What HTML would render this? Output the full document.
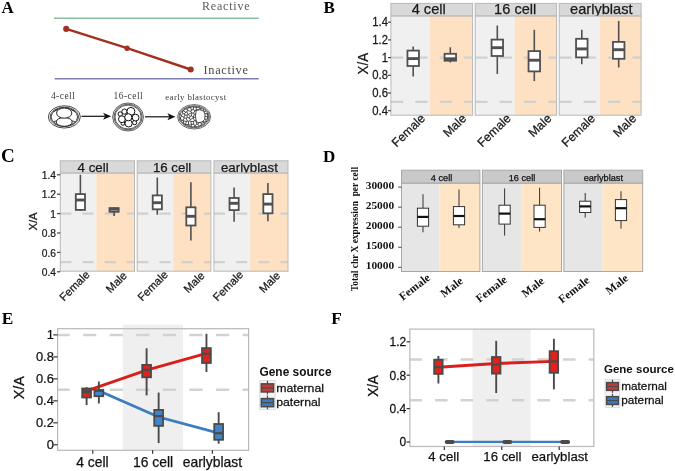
<!DOCTYPE html>
<html><head><meta charset="utf-8"><style>
html,body{margin:0;padding:0;background:#fff;}
svg{display:block;will-change:transform;opacity:0.999;}
</style></head><body>
<svg width="675" height="471" viewBox="0 0 675 471">
<rect width="675" height="471" fill="#fff"/>
<text transform="translate(1.60,12.80)" font-family='"Liberation Serif", serif' font-size="17" font-weight="bold" text-anchor="start" fill="#000" >A</text>
<text transform="translate(323.50,12.70)" font-family='"Liberation Serif", serif' font-size="17" font-weight="bold" text-anchor="start" fill="#000" >B</text>
<text transform="translate(0.95,161.70)" font-family='"Liberation Serif", serif' font-size="19" font-weight="bold" text-anchor="start" fill="#000" >C</text>
<text transform="translate(323.10,161.50)" font-family='"Liberation Serif", serif' font-size="17" font-weight="bold" text-anchor="start" fill="#000" >D</text>
<text transform="translate(1.85,323.90)" font-family='"Liberation Serif", serif' font-size="17.3" font-weight="bold" text-anchor="start" fill="#000" >E</text>
<text transform="translate(331.35,323.90)" font-family='"Liberation Serif", serif' font-size="17.3" font-weight="bold" text-anchor="start" fill="#000" >F</text>
<line x1="54.00" y1="18.20" x2="258.70" y2="18.20" stroke="#88c09a" stroke-width="1.6" />
<text transform="translate(202.00,9.80)" font-family='"Liberation Serif", serif' font-size="12" font-weight="normal" text-anchor="start" fill="#5a5a5a" letter-spacing="0.8" >Reactive</text>
<line x1="54.70" y1="78.70" x2="258.70" y2="78.70" stroke="#7d7bb3" stroke-width="1.6" />
<text transform="translate(203.60,73.80)" font-family='"Liberation Serif", serif' font-size="12.3" font-weight="normal" text-anchor="start" fill="#4a4a4a" letter-spacing="0.67" >Inactive</text>
<polyline points="66.2,28.9 127.1,48.2 190.7,69.5" fill="none" stroke="#a23122" stroke-width="2.4"/>
<circle cx="66.2" cy="28.9" r="3.05" fill="#a23122"/>
<circle cx="127.1" cy="48.2" r="2.7" fill="#a23122"/>
<circle cx="190.7" cy="69.5" r="3.05" fill="#a23122"/>
<text transform="translate(50.90,98.70)" font-family='"Liberation Serif", serif' font-size="9.5" font-weight="normal" text-anchor="start" fill="#3a3a3a" letter-spacing="0.45" >4-cell</text>
<text transform="translate(113.60,98.70)" font-family='"Liberation Serif", serif' font-size="9.5" font-weight="normal" text-anchor="start" fill="#3a3a3a" letter-spacing="0.45" >16-cell</text>
<text transform="translate(165.30,100.00)" font-family='"Liberation Serif", serif' font-size="8.8" font-weight="normal" text-anchor="start" fill="#3a3a3a" letter-spacing="0.39" >early blastocyst</text>
<line x1="81.50" y1="116.30" x2="106.10" y2="116.30" stroke="#111" stroke-width="1.2" />
<polygon points="103.1,112.8 111.1,116.3 103.1,119.8 105.1,116.3" fill="#111"/>
<line x1="145.00" y1="116.80" x2="170.40" y2="116.80" stroke="#111" stroke-width="1.2" />
<polygon points="167.4,113.3 175.4,116.8 167.4,120.3 169.4,116.8" fill="#111"/>
<g fill="none" stroke="#1a1a1a" stroke-width="0.8"><ellipse cx="64.35" cy="116.9" rx="16.0" ry="11.15"/><ellipse cx="64.35" cy="116.9" rx="14.2" ry="9.7"/><ellipse cx="64.35" cy="116.9" rx="13.2" ry="8.9"/><ellipse cx="64.2" cy="121.9" rx="8.0" ry="4.4" fill="#fff" stroke-width="0.95"/><ellipse cx="64.2" cy="113.1" rx="7.6" ry="5.1" fill="#fff" stroke-width="0.95"/><path d="M57.3 109.9 L53.3 111.6 M56.7 120.8 L53.6 121.6 M71.2 109.9 L75.3 111.6 M71.8 120.8 L74.9 121.6"/></g>
<g fill="none" stroke="#2a2a2a" stroke-width="0.75"><ellipse cx="128.05" cy="117" rx="15.4" ry="14.0"/><ellipse cx="128.05" cy="117" rx="14.05" ry="12.8"/><ellipse cx="128.05" cy="117" rx="13.1" ry="11.9"/><circle cx="120.2" cy="114.0" r="2.2" fill="#fff" stroke="#111" stroke-width="1.0"/><circle cx="124.4" cy="111.6" r="2.6" fill="#fff" stroke="#111" stroke-width="1.0"/><circle cx="122.9" cy="123.4" r="1.9" fill="#fff" stroke="#111" stroke-width="1.0"/><circle cx="134.6" cy="122.6" r="2.1" fill="#fff" stroke="#111" stroke-width="1.0"/><circle cx="121.9" cy="119.2" r="3.4" fill="#fff" stroke="#111" stroke-width="1.0"/><circle cx="130.9" cy="111.4" r="4.0" fill="#fff" stroke="#111" stroke-width="1.0"/><circle cx="135.6" cy="117.6" r="3.4" fill="#fff" stroke="#111" stroke-width="1.0"/><circle cx="128.6" cy="123.4" r="3.6" fill="#fff" stroke="#111" stroke-width="1.0"/><circle cx="128.3" cy="117.3" r="3.6" fill="#fff" stroke="#111" stroke-width="1.0"/></g>
<defs><clipPath id="blc"><ellipse cx="194.1" cy="116.8" rx="14.4" ry="10.2"/></clipPath></defs>
<g fill="none" stroke="#2a2a2a" stroke-width="0.7"><ellipse cx="194.1" cy="116.8" rx="16.5" ry="12.2"/><ellipse cx="194.1" cy="116.8" rx="15.3" ry="11.0"/><ellipse cx="194.1" cy="116.8" rx="14.4" ry="10.2" fill="#fff"/><path clip-path="url(#blc)" d="M177.6 120.9L178.7 122.3M186.3 128.4L184.6 127.1M184.6 127.1L184.6 127.1M181.0 125.2L182.4 126.6M184.6 127.1L182.4 126.6M203.6 106.6L204.4 107.2M205.5 107.4L204.4 107.2M205.5 107.4L207.1 108.5M203.6 106.6L203.3 106.5M201.9 105.1L203.3 106.5M201.9 105.1L199.8 104.5M197.6 103.9L198.9 104.7M199.8 104.5L198.9 104.7M182.5 107.1L180.8 108.3M184.3 106.0L186.3 105.1M182.5 107.1L183.7 106.9M184.3 106.0L183.7 106.9M177.6 120.9L177.3 119.2M181.0 125.2L180.8 124.6M180.8 124.6L179.8 123.7M178.7 122.3L179.3 122.6M179.8 123.7L179.3 122.6M211.4 117.6L210.9 119.2M211.1 116.0L211.4 117.6M210.9 119.2L210.4 119.8M210.4 119.8L210.3 120.7M210.3 120.7L209.4 122.2M208.5 123.7L207.2 125.2M208.7 122.7L209.4 122.2M208.7 122.7L208.5 123.7M188.5 128.8L190.7 129.3M186.3 128.4L188.3 128.7M188.3 128.7L188.5 128.8M207.1 108.5L207.8 109.9M208.1 110.1L207.8 109.9M188.4 104.6L190.6 104.0M186.3 105.1L187.8 105.2M188.4 104.6L187.8 105.2M180.0 110.1L180.0 110.6M180.0 110.6L179.1 111.6M180.8 108.3L180.0 110.1M178.4 113.1L179.1 111.6M177.5 114.4L177.1 116.0M178.4 113.1L178.4 113.2M177.5 114.4L178.4 113.2M177.1 116.0L177.3 117.6M177.3 119.2L177.6 118.0M177.3 117.6L177.6 118.0M204.4 107.2L202.6 112.7M203.3 106.5L200.5 108.7M200.5 108.7L202.6 112.7M207.8 109.9L202.7 112.8M202.6 112.7L202.7 112.8M188.3 128.7L188.9 125.0M191.9 128.9L191.1 124.8M191.9 128.9L190.7 129.3M188.9 125.0L191.1 124.8M184.6 127.1L185.5 124.7M185.5 124.7L188.5 124.6M188.9 125.0L188.5 124.6M180.8 124.6L183.4 123.0M185.5 124.7L185.5 124.6M183.4 123.0L185.5 124.6M191.9 128.9L192.9 129.2M193.0 129.2L192.9 129.2M204.3 126.5L203.8 127.4M204.3 126.5L205.1 126.0M205.1 126.0L205.3 126.0M207.2 125.2L205.3 126.0M201.9 128.5L199.6 128.6M203.8 127.4L201.9 128.5M197.9 124.2L200.0 122.2M197.9 124.2L199.5 126.3M199.5 126.3L201.4 124.7M201.4 124.7L201.2 123.3M201.2 123.3L200.0 122.2M196.8 124.1L197.9 124.2M196.8 124.1L195.9 120.8M199.6 118.4L195.9 120.8M199.6 118.4L200.0 122.2M196.8 124.1L195.2 125.4M199.4 128.5L199.5 126.3M199.4 128.5L198.1 128.9M198.1 128.9L195.2 125.4M199.4 128.5L199.6 128.6M204.3 126.5L201.4 124.7M204.0 122.5L205.1 126.0M204.0 122.5L201.2 123.3M208.1 110.1L208.9 111.3M209.3 111.4L208.9 111.3M209.3 111.4L210.5 112.7M210.5 112.7L211.0 114.4M211.1 116.0L210.8 115.6M211.0 114.4L210.8 115.6M198.6 114.6L195.6 110.5M198.6 114.6L194.4 114.1M194.4 114.1L193.5 113.1M193.5 113.1L195.1 110.6M195.1 110.6L195.6 110.5M190.6 104.0L191.7 104.3M192.9 103.6L191.7 104.3M192.9 103.6L195.3 103.7M197.6 103.9L195.6 103.9M195.3 103.7L195.6 103.9M182.2 111.3L182.9 113.7M182.2 111.3L183.5 110.9M183.5 110.9L185.6 112.2M185.6 112.2L184.4 114.0M184.4 114.0L182.9 113.7M180.0 110.6L182.2 111.3M178.4 113.2L181.3 115.2M181.3 115.2L182.9 113.7M183.7 106.9L184.6 108.5M184.6 108.5L183.5 110.9M184.9 115.2L184.4 114.0M184.9 115.2L187.2 115.1M187.2 115.1L188.0 114.3M185.6 112.2L186.9 111.9M186.9 111.9L188.0 114.3M199.6 108.6L198.5 109.8M199.6 108.6L198.5 106.6M198.5 109.8L196.2 109.7M198.5 106.6L196.1 107.7M196.1 107.7L196.2 109.7M198.9 104.7L198.5 106.6M200.5 108.7L199.6 108.6M198.6 114.6L200.0 115.3M200.0 115.3L198.5 109.8M195.6 110.5L196.2 109.7M195.6 103.9L195.1 106.9M195.1 106.9L196.1 107.7M193.8 121.3L190.8 121.5M193.8 121.3L193.4 124.3M190.8 121.5L191.5 124.5M193.4 124.3L191.5 124.5M195.9 120.8L194.6 120.6M194.6 120.6L193.8 121.3M195.2 125.4L195.1 125.4M195.1 125.4L193.4 124.3M188.5 124.6L188.5 121.3M191.1 124.8L191.5 124.5M188.5 121.3L189.9 120.7M189.9 120.7L190.8 121.5M192.9 129.2L195.1 125.4M183.4 123.0L183.5 120.8M185.5 124.6L186.3 121.6M183.5 120.8L186.3 121.6M188.5 121.3L187.2 121.1M187.2 121.1L186.3 121.6M180.0 118.0L181.6 116.3M180.0 118.0L181.7 120.3M181.6 116.3L183.9 117.2M181.7 120.3L183.2 120.3M183.2 120.3L184.3 118.0M183.9 117.2L184.3 118.0M177.6 118.0L180.0 118.0M181.3 115.2L181.6 116.3M179.3 122.6L181.7 120.3M184.9 115.2L183.9 117.2M183.5 120.8L183.2 120.3M186.3 118.2L184.3 118.0M186.3 118.2L187.2 121.1M187.2 117.6L187.2 115.1M187.2 117.6L186.3 118.2M190.0 116.3L189.3 117.9M190.0 116.3L191.4 115.9M191.4 115.9L193.3 117.2M190.2 119.5L193.2 118.1M190.2 119.5L189.3 117.9M193.2 118.1L193.4 117.4M193.4 117.4L193.3 117.2M187.2 117.6L189.3 117.9M188.0 114.3L188.3 114.4M188.3 114.4L190.0 116.3M191.8 113.0L191.4 115.9M191.8 113.0L191.4 112.7M191.4 112.7L188.3 114.4M191.8 113.0L193.5 113.1M194.4 114.1L193.3 117.2M194.6 120.6L193.2 118.1M189.9 120.7L190.2 119.5M195.3 130.0L197.5 129.5M198.1 128.9L197.5 129.5M193.0 129.2L195.3 130.0M208.9 111.3L207.1 113.7M210.8 115.6L208.0 115.9M207.1 113.7L208.0 115.9M202.7 112.8L202.4 113.8M207.1 113.7L202.4 113.8M210.4 119.8L207.6 118.4M207.6 118.4L207.5 116.6M208.0 115.9L207.5 116.6M195.1 110.6L193.2 109.5M195.1 106.9L193.5 107.3M193.2 109.5L193.5 107.3M191.7 104.3L192.1 106.3M192.1 106.3L193.5 107.3M187.4 109.6L187.6 110.5M187.4 109.6L188.4 107.6M187.6 110.5L190.9 111.3M188.4 107.6L190.6 107.9M190.6 107.9L191.6 110.0M190.9 111.3L191.6 110.0M184.6 108.5L187.4 109.6M186.9 111.9L187.6 110.5M187.8 105.2L188.4 107.6M191.4 112.7L190.9 111.3M192.1 106.3L190.6 107.9M193.2 109.5L191.6 110.0M201.4 116.1L200.8 115.8M201.4 116.1L206.0 119.6M200.7 115.9L200.8 115.8M200.7 115.9L200.4 116.5M200.3 117.0L200.4 116.5M200.3 117.0L204.1 122.2M204.1 122.2L206.0 121.1M206.0 121.1L206.0 119.6M202.4 113.8L200.8 115.8M207.5 116.6L201.4 116.1M207.6 118.4L206.0 119.6M200.0 115.3L200.7 115.9M193.4 117.4L200.4 116.5M199.6 118.4L200.3 117.0M204.0 122.5L204.1 122.2M208.7 122.7L206.0 121.1" stroke="#1a1a1a" stroke-width="0.75" fill="none"/><path d="M196.2 110.5 Q194.6 116.3 196.4 122.0 Q201.5 123.8 204.6 119.5 Q206.2 114.5 203.6 111.0 Q200.0 108.8 196.2 110.5 Z" fill="#fff" stroke="#222" stroke-width="0.8"/></g>
<rect x="390.90" y="3.40" width="81.70" height="12.60" fill="#d9d9d9" stroke="none" stroke-width="0" />
<text transform="translate(428.70,14.40)" font-family='"Liberation Sans", sans-serif' font-size="14.6" font-weight="normal" text-anchor="middle" fill="#1a1a1a"  stroke="#1a1a1a" stroke-width="0.25">4 cell</text>
<rect x="390.90" y="16.00" width="39.10" height="99.20" fill="#f0f0f0" stroke="none" stroke-width="0" />
<rect x="430.00" y="16.00" width="42.60" height="99.20" fill="#fde1c2" stroke="none" stroke-width="0" />
<line x1="390.90" y1="57.60" x2="472.60" y2="57.60" stroke="#d0d0d0" stroke-width="2.2" stroke-dasharray="12.3 12.1"/>
<line x1="390.90" y1="101.85" x2="472.60" y2="101.85" stroke="#d0d0d0" stroke-width="2.2" stroke-dasharray="12.3 12.1"/>
<line x1="413.20" y1="46.40" x2="413.20" y2="50.60" stroke="#505050" stroke-width="1.6" />
<line x1="413.20" y1="66.00" x2="413.20" y2="76.60" stroke="#505050" stroke-width="1.6" />
<rect x="407.45" y="50.60" width="11.50" height="15.40" fill="#fff" stroke="#505050" stroke-width="1.8" />
<line x1="407.45" y1="58.60" x2="418.95" y2="58.60" stroke="#505050" stroke-width="2.9000000000000004" />
<line x1="450.30" y1="47.30" x2="450.30" y2="53.80" stroke="#505050" stroke-width="1.6" />
<line x1="450.30" y1="60.70" x2="450.30" y2="62.50" stroke="#505050" stroke-width="1.6" />
<rect x="444.55" y="53.80" width="11.50" height="6.90" fill="#fff" stroke="#505050" stroke-width="1.8" />
<line x1="444.55" y1="58.80" x2="456.05" y2="58.80" stroke="#505050" stroke-width="2.9000000000000004" />
<rect x="390.90" y="3.40" width="81.70" height="111.80" fill="none" stroke="#b8b8b8" stroke-width="1" />
<line x1="390.90" y1="16.00" x2="472.60" y2="16.00" stroke="#aaaaaa" stroke-width="1" />
<rect x="475.20" y="3.40" width="81.40" height="12.60" fill="#d9d9d9" stroke="none" stroke-width="0" />
<text transform="translate(515.20,14.40)" font-family='"Liberation Sans", sans-serif' font-size="14.6" font-weight="normal" text-anchor="middle" fill="#1a1a1a"  stroke="#1a1a1a" stroke-width="0.25">16 cell</text>
<rect x="475.20" y="16.00" width="39.40" height="99.20" fill="#f0f0f0" stroke="none" stroke-width="0" />
<rect x="514.60" y="16.00" width="42.00" height="99.20" fill="#fde1c2" stroke="none" stroke-width="0" />
<line x1="475.20" y1="57.60" x2="556.60" y2="57.60" stroke="#d0d0d0" stroke-width="2.2" stroke-dasharray="12.3 12.1"/>
<line x1="475.20" y1="101.85" x2="556.60" y2="101.85" stroke="#d0d0d0" stroke-width="2.2" stroke-dasharray="12.3 12.1"/>
<line x1="497.30" y1="25.50" x2="497.30" y2="39.60" stroke="#505050" stroke-width="1.6" />
<line x1="497.30" y1="56.00" x2="497.30" y2="74.00" stroke="#505050" stroke-width="1.6" />
<rect x="491.55" y="39.60" width="11.50" height="16.40" fill="#fff" stroke="#505050" stroke-width="1.8" />
<line x1="491.55" y1="47.70" x2="503.05" y2="47.70" stroke="#505050" stroke-width="2.9000000000000004" />
<line x1="534.30" y1="29.80" x2="534.30" y2="51.10" stroke="#505050" stroke-width="1.6" />
<line x1="534.30" y1="71.40" x2="534.30" y2="81.10" stroke="#505050" stroke-width="1.6" />
<rect x="528.55" y="51.10" width="11.50" height="20.30" fill="#fff" stroke="#505050" stroke-width="1.8" />
<line x1="528.55" y1="60.20" x2="540.05" y2="60.20" stroke="#505050" stroke-width="2.9000000000000004" />
<rect x="475.20" y="3.40" width="81.40" height="111.80" fill="none" stroke="#b8b8b8" stroke-width="1" />
<line x1="475.20" y1="16.00" x2="556.60" y2="16.00" stroke="#aaaaaa" stroke-width="1" />
<rect x="559.20" y="3.40" width="81.90" height="12.60" fill="#d9d9d9" stroke="none" stroke-width="0" />
<text transform="translate(601.30,14.40)" font-family='"Liberation Sans", sans-serif' font-size="14.6" font-weight="normal" text-anchor="middle" fill="#1a1a1a"  stroke="#1a1a1a" stroke-width="0.25">earlyblast</text>
<rect x="559.20" y="16.00" width="40.60" height="99.20" fill="#f0f0f0" stroke="none" stroke-width="0" />
<rect x="599.80" y="16.00" width="41.30" height="99.20" fill="#fde1c2" stroke="none" stroke-width="0" />
<line x1="559.20" y1="57.60" x2="641.10" y2="57.60" stroke="#d0d0d0" stroke-width="2.2" stroke-dasharray="12.3 12.1"/>
<line x1="559.20" y1="101.85" x2="641.10" y2="101.85" stroke="#d0d0d0" stroke-width="2.2" stroke-dasharray="12.3 12.1"/>
<line x1="581.80" y1="29.80" x2="581.80" y2="38.80" stroke="#505050" stroke-width="1.6" />
<line x1="581.80" y1="57.40" x2="581.80" y2="64.20" stroke="#505050" stroke-width="1.6" />
<rect x="576.05" y="38.80" width="11.50" height="18.60" fill="#fff" stroke="#505050" stroke-width="1.8" />
<line x1="576.05" y1="48.90" x2="587.55" y2="48.90" stroke="#505050" stroke-width="2.9000000000000004" />
<line x1="618.70" y1="20.90" x2="618.70" y2="41.90" stroke="#505050" stroke-width="1.6" />
<line x1="618.70" y1="58.80" x2="618.70" y2="67.50" stroke="#505050" stroke-width="1.6" />
<rect x="612.95" y="41.90" width="11.50" height="16.90" fill="#fff" stroke="#505050" stroke-width="1.8" />
<line x1="612.95" y1="49.70" x2="624.45" y2="49.70" stroke="#505050" stroke-width="2.9000000000000004" />
<rect x="559.20" y="3.40" width="81.90" height="111.80" fill="none" stroke="#b8b8b8" stroke-width="1" />
<line x1="559.20" y1="16.00" x2="641.10" y2="16.00" stroke="#aaaaaa" stroke-width="1" />
<line x1="388.00" y1="22.20" x2="390.90" y2="22.20" stroke="#333" stroke-width="1.1" />
<text transform="translate(388.00,26.30) scale(0.890,1)" font-family='"Liberation Sans", sans-serif' font-size="12.7" font-weight="normal" text-anchor="end" fill="#1a1a1a"  stroke="#1a1a1a" stroke-width="0.25">1.4</text>
<line x1="388.00" y1="39.90" x2="390.90" y2="39.90" stroke="#333" stroke-width="1.1" />
<text transform="translate(388.00,44.00) scale(0.890,1)" font-family='"Liberation Sans", sans-serif' font-size="12.7" font-weight="normal" text-anchor="end" fill="#1a1a1a"  stroke="#1a1a1a" stroke-width="0.25">1.2</text>
<line x1="388.00" y1="57.60" x2="390.90" y2="57.60" stroke="#333" stroke-width="1.1" />
<text transform="translate(388.00,61.70) scale(0.890,1)" font-family='"Liberation Sans", sans-serif' font-size="12.7" font-weight="normal" text-anchor="end" fill="#1a1a1a"  stroke="#1a1a1a" stroke-width="0.25">1</text>
<line x1="388.00" y1="75.30" x2="390.90" y2="75.30" stroke="#333" stroke-width="1.1" />
<text transform="translate(388.00,79.40) scale(0.890,1)" font-family='"Liberation Sans", sans-serif' font-size="12.7" font-weight="normal" text-anchor="end" fill="#1a1a1a"  stroke="#1a1a1a" stroke-width="0.25">0.8</text>
<line x1="388.00" y1="93.00" x2="390.90" y2="93.00" stroke="#333" stroke-width="1.1" />
<text transform="translate(388.00,97.10) scale(0.890,1)" font-family='"Liberation Sans", sans-serif' font-size="12.7" font-weight="normal" text-anchor="end" fill="#1a1a1a"  stroke="#1a1a1a" stroke-width="0.25">0.6</text>
<line x1="388.00" y1="110.70" x2="390.90" y2="110.70" stroke="#333" stroke-width="1.1" />
<text transform="translate(388.00,114.80) scale(0.890,1)" font-family='"Liberation Sans", sans-serif' font-size="12.7" font-weight="normal" text-anchor="end" fill="#1a1a1a"  stroke="#1a1a1a" stroke-width="0.25">0.4</text>
<text transform="translate(367.50,63.70) rotate(-90) scale(0.910,1)" font-family='"Liberation Sans", sans-serif' font-size="14.7" font-weight="normal" text-anchor="middle" fill="#1a1a1a"  stroke="#1a1a1a" stroke-width="0.25">X/A</text>
<text transform="translate(426.00,119.20) rotate(-44)" font-family='"Liberation Sans", sans-serif' font-size="12.3" font-weight="normal" text-anchor="end" fill="#1a1a1a"  stroke="#1a1a1a" stroke-width="0.25">Female</text>
<text transform="translate(467.10,119.30) rotate(-44)" font-family='"Liberation Sans", sans-serif' font-size="12.3" font-weight="normal" text-anchor="end" fill="#1a1a1a"  stroke="#1a1a1a" stroke-width="0.25">Male</text>
<text transform="translate(511.70,119.20) rotate(-44)" font-family='"Liberation Sans", sans-serif' font-size="12.3" font-weight="normal" text-anchor="end" fill="#1a1a1a"  stroke="#1a1a1a" stroke-width="0.25">Female</text>
<text transform="translate(552.30,119.30) rotate(-44)" font-family='"Liberation Sans", sans-serif' font-size="12.3" font-weight="normal" text-anchor="end" fill="#1a1a1a"  stroke="#1a1a1a" stroke-width="0.25">Male</text>
<text transform="translate(596.00,119.20) rotate(-44)" font-family='"Liberation Sans", sans-serif' font-size="12.3" font-weight="normal" text-anchor="end" fill="#1a1a1a"  stroke="#1a1a1a" stroke-width="0.25">Female</text>
<text transform="translate(637.10,119.30) rotate(-44)" font-family='"Liberation Sans", sans-serif' font-size="12.3" font-weight="normal" text-anchor="end" fill="#1a1a1a"  stroke="#1a1a1a" stroke-width="0.25">Male</text>
<rect x="60.30" y="160.80" width="74.20" height="12.30" fill="#d9d9d9" stroke="none" stroke-width="0" />
<text transform="translate(93.10,172.00)" font-family='"Liberation Sans", sans-serif' font-size="13.3" font-weight="normal" text-anchor="middle" fill="#1a1a1a"  stroke="#1a1a1a" stroke-width="0.25">4 cell</text>
<rect x="60.30" y="173.10" width="36.00" height="98.10" fill="#f0f0f0" stroke="none" stroke-width="0" />
<rect x="96.30" y="173.10" width="38.20" height="98.10" fill="#fde1c2" stroke="none" stroke-width="0" />
<line x1="60.30" y1="213.60" x2="134.50" y2="213.60" stroke="#d0d0d0" stroke-width="2.2" stroke-dasharray="11.1 11.1"/>
<line x1="60.30" y1="262.10" x2="134.50" y2="262.10" stroke="#d0d0d0" stroke-width="2.2" stroke-dasharray="11.1 11.1"/>
<line x1="80.40" y1="174.80" x2="80.40" y2="194.10" stroke="#505050" stroke-width="1.6" />
<line x1="80.40" y1="209.90" x2="80.40" y2="211.00" stroke="#505050" stroke-width="1.6" />
<rect x="75.80" y="194.10" width="9.20" height="15.80" fill="#fff" stroke="#505050" stroke-width="1.8" />
<line x1="75.80" y1="200.00" x2="85.00" y2="200.00" stroke="#505050" stroke-width="2.9000000000000004" />
<line x1="114.10" y1="207.50" x2="114.10" y2="208.10" stroke="#505050" stroke-width="1.6" />
<line x1="114.10" y1="211.80" x2="114.10" y2="215.90" stroke="#505050" stroke-width="1.6" />
<rect x="109.50" y="208.10" width="9.20" height="3.70" fill="#fff" stroke="#505050" stroke-width="1.8" />
<line x1="109.50" y1="209.20" x2="118.70" y2="209.20" stroke="#505050" stroke-width="2.9000000000000004" />
<rect x="60.30" y="160.80" width="74.20" height="110.40" fill="none" stroke="#b8b8b8" stroke-width="1" />
<line x1="60.30" y1="173.10" x2="134.50" y2="173.10" stroke="#aaaaaa" stroke-width="1" />
<rect x="137.20" y="160.80" width="73.70" height="12.30" fill="#d9d9d9" stroke="none" stroke-width="0" />
<text transform="translate(172.10,172.00)" font-family='"Liberation Sans", sans-serif' font-size="13.3" font-weight="normal" text-anchor="middle" fill="#1a1a1a"  stroke="#1a1a1a" stroke-width="0.25">16 cell</text>
<rect x="137.20" y="173.10" width="36.00" height="98.10" fill="#f0f0f0" stroke="none" stroke-width="0" />
<rect x="173.20" y="173.10" width="37.70" height="98.10" fill="#fde1c2" stroke="none" stroke-width="0" />
<line x1="137.20" y1="213.60" x2="210.90" y2="213.60" stroke="#d0d0d0" stroke-width="2.2" stroke-dasharray="11.1 11.1"/>
<line x1="137.20" y1="262.10" x2="210.90" y2="262.10" stroke="#d0d0d0" stroke-width="2.2" stroke-dasharray="11.1 11.1"/>
<line x1="157.30" y1="177.50" x2="157.30" y2="195.40" stroke="#505050" stroke-width="1.6" />
<line x1="157.30" y1="209.30" x2="157.30" y2="214.70" stroke="#505050" stroke-width="1.6" />
<rect x="152.70" y="195.40" width="9.20" height="13.90" fill="#fff" stroke="#505050" stroke-width="1.8" />
<line x1="152.70" y1="202.70" x2="161.90" y2="202.70" stroke="#505050" stroke-width="2.9000000000000004" />
<line x1="190.90" y1="182.30" x2="190.90" y2="207.30" stroke="#505050" stroke-width="1.6" />
<line x1="190.90" y1="225.50" x2="190.90" y2="240.40" stroke="#505050" stroke-width="1.6" />
<rect x="186.30" y="207.30" width="9.20" height="18.20" fill="#fff" stroke="#505050" stroke-width="1.8" />
<line x1="186.30" y1="216.30" x2="195.50" y2="216.30" stroke="#505050" stroke-width="2.9000000000000004" />
<rect x="137.20" y="160.80" width="73.70" height="110.40" fill="none" stroke="#b8b8b8" stroke-width="1" />
<line x1="137.20" y1="173.10" x2="210.90" y2="173.10" stroke="#aaaaaa" stroke-width="1" />
<rect x="213.90" y="160.80" width="74.10" height="12.30" fill="#d9d9d9" stroke="none" stroke-width="0" />
<text transform="translate(249.40,172.00)" font-family='"Liberation Sans", sans-serif' font-size="13.3" font-weight="normal" text-anchor="middle" fill="#1a1a1a"  stroke="#1a1a1a" stroke-width="0.25">earlyblast</text>
<rect x="213.90" y="173.10" width="36.20" height="98.10" fill="#f0f0f0" stroke="none" stroke-width="0" />
<rect x="250.10" y="173.10" width="37.90" height="98.10" fill="#fde1c2" stroke="none" stroke-width="0" />
<line x1="213.90" y1="213.60" x2="288.00" y2="213.60" stroke="#d0d0d0" stroke-width="2.2" stroke-dasharray="11.1 11.1"/>
<line x1="213.90" y1="262.10" x2="288.00" y2="262.10" stroke="#d0d0d0" stroke-width="2.2" stroke-dasharray="11.1 11.1"/>
<line x1="234.10" y1="187.40" x2="234.10" y2="198.00" stroke="#505050" stroke-width="1.6" />
<line x1="234.10" y1="210.10" x2="234.10" y2="221.80" stroke="#505050" stroke-width="1.6" />
<rect x="229.50" y="198.00" width="9.20" height="12.10" fill="#fff" stroke="#505050" stroke-width="1.8" />
<line x1="229.50" y1="203.30" x2="238.70" y2="203.30" stroke="#505050" stroke-width="2.9000000000000004" />
<line x1="267.90" y1="182.90" x2="267.90" y2="194.10" stroke="#505050" stroke-width="1.6" />
<line x1="267.90" y1="213.30" x2="267.90" y2="221.30" stroke="#505050" stroke-width="1.6" />
<rect x="263.30" y="194.10" width="9.20" height="19.20" fill="#fff" stroke="#505050" stroke-width="1.8" />
<line x1="263.30" y1="204.10" x2="272.50" y2="204.10" stroke="#505050" stroke-width="2.9000000000000004" />
<rect x="213.90" y="160.80" width="74.10" height="110.40" fill="none" stroke="#b8b8b8" stroke-width="1" />
<line x1="213.90" y1="173.10" x2="288.00" y2="173.10" stroke="#aaaaaa" stroke-width="1" />
<line x1="57.00" y1="174.80" x2="60.30" y2="174.80" stroke="#333" stroke-width="1.1" />
<text transform="translate(56.00,178.90) scale(0.910,1)" font-family='"Liberation Sans", sans-serif' font-size="11.3" font-weight="normal" text-anchor="end" fill="#1a1a1a"  stroke="#1a1a1a" stroke-width="0.25">1.4</text>
<line x1="57.00" y1="194.20" x2="60.30" y2="194.20" stroke="#333" stroke-width="1.1" />
<text transform="translate(56.00,198.30) scale(0.910,1)" font-family='"Liberation Sans", sans-serif' font-size="11.3" font-weight="normal" text-anchor="end" fill="#1a1a1a"  stroke="#1a1a1a" stroke-width="0.25">1.2</text>
<line x1="57.00" y1="213.60" x2="60.30" y2="213.60" stroke="#333" stroke-width="1.1" />
<text transform="translate(56.00,217.70) scale(0.910,1)" font-family='"Liberation Sans", sans-serif' font-size="11.3" font-weight="normal" text-anchor="end" fill="#1a1a1a"  stroke="#1a1a1a" stroke-width="0.25">1</text>
<line x1="57.00" y1="233.00" x2="60.30" y2="233.00" stroke="#333" stroke-width="1.1" />
<text transform="translate(56.00,237.10) scale(0.910,1)" font-family='"Liberation Sans", sans-serif' font-size="11.3" font-weight="normal" text-anchor="end" fill="#1a1a1a"  stroke="#1a1a1a" stroke-width="0.25">0.8</text>
<line x1="57.00" y1="252.40" x2="60.30" y2="252.40" stroke="#333" stroke-width="1.1" />
<text transform="translate(56.00,256.50) scale(0.910,1)" font-family='"Liberation Sans", sans-serif' font-size="11.3" font-weight="normal" text-anchor="end" fill="#1a1a1a"  stroke="#1a1a1a" stroke-width="0.25">0.6</text>
<line x1="57.00" y1="271.80" x2="60.30" y2="271.80" stroke="#333" stroke-width="1.1" />
<text transform="translate(56.00,275.90) scale(0.910,1)" font-family='"Liberation Sans", sans-serif' font-size="11.3" font-weight="normal" text-anchor="end" fill="#1a1a1a"  stroke="#1a1a1a" stroke-width="0.25">0.4</text>
<text transform="translate(37.00,221.50) rotate(-90)" font-family='"Liberation Sans", sans-serif' font-size="11.3" font-weight="normal" text-anchor="middle" fill="#1a1a1a"  stroke="#1a1a1a" stroke-width="0.25">X/A</text>
<text transform="translate(90.40,275.40) rotate(-45)" font-family='"Liberation Sans", sans-serif' font-size="11.2" font-weight="normal" text-anchor="end" fill="#1a1a1a"  stroke="#1a1a1a" stroke-width="0.25">Female</text>
<text transform="translate(127.70,276.30) rotate(-45)" font-family='"Liberation Sans", sans-serif' font-size="11.2" font-weight="normal" text-anchor="end" fill="#1a1a1a"  stroke="#1a1a1a" stroke-width="0.25">Male</text>
<text transform="translate(168.60,275.40) rotate(-45)" font-family='"Liberation Sans", sans-serif' font-size="11.2" font-weight="normal" text-anchor="end" fill="#1a1a1a"  stroke="#1a1a1a" stroke-width="0.25">Female</text>
<text transform="translate(205.30,276.30) rotate(-45)" font-family='"Liberation Sans", sans-serif' font-size="11.2" font-weight="normal" text-anchor="end" fill="#1a1a1a"  stroke="#1a1a1a" stroke-width="0.25">Male</text>
<text transform="translate(244.00,275.40) rotate(-45)" font-family='"Liberation Sans", sans-serif' font-size="11.2" font-weight="normal" text-anchor="end" fill="#1a1a1a"  stroke="#1a1a1a" stroke-width="0.25">Female</text>
<text transform="translate(280.90,276.30) rotate(-45)" font-family='"Liberation Sans", sans-serif' font-size="11.2" font-weight="normal" text-anchor="end" fill="#1a1a1a"  stroke="#1a1a1a" stroke-width="0.25">Male</text>
<rect x="401.50" y="170.20" width="78.40" height="13.00" fill="#c9c9c9" stroke="none" stroke-width="0" />
<text transform="translate(441.50,181.00)" font-family='"Liberation Sans", sans-serif' font-size="9.2" font-weight="normal" text-anchor="middle" fill="#111"  stroke="#111" stroke-width="0.25">4 cell</text>
<rect x="401.50" y="183.20" width="37.90" height="88.30" fill="#e6e6e7" stroke="none" stroke-width="0" />
<rect x="439.40" y="183.20" width="40.50" height="88.30" fill="#fee5c5" stroke="none" stroke-width="0" />
<line x1="423.00" y1="194.20" x2="423.00" y2="208.20" stroke="#333" stroke-width="1" />
<line x1="423.00" y1="226.20" x2="423.00" y2="232.30" stroke="#333" stroke-width="1" />
<rect x="417.40" y="208.20" width="11.20" height="18.00" fill="#fff" stroke="#333" stroke-width="1" />
<line x1="417.40" y1="216.90" x2="428.60" y2="216.90" stroke="#111" stroke-width="2.2" />
<line x1="459.00" y1="189.50" x2="459.00" y2="206.60" stroke="#333" stroke-width="1" />
<line x1="459.00" y1="224.80" x2="459.00" y2="228.10" stroke="#333" stroke-width="1" />
<rect x="453.40" y="206.60" width="11.20" height="18.20" fill="#fff" stroke="#333" stroke-width="1" />
<line x1="453.40" y1="216.00" x2="464.60" y2="216.00" stroke="#111" stroke-width="2.2" />
<rect x="401.50" y="170.20" width="78.40" height="101.30" fill="none" stroke="#a8a8a8" stroke-width="1" />
<line x1="401.50" y1="183.20" x2="479.90" y2="183.20" stroke="#9a9a9a" stroke-width="1" />
<rect x="482.40" y="170.20" width="79.10" height="13.00" fill="#c9c9c9" stroke="none" stroke-width="0" />
<text transform="translate(522.00,181.00)" font-family='"Liberation Sans", sans-serif' font-size="9.2" font-weight="normal" text-anchor="middle" fill="#111"  stroke="#111" stroke-width="0.25">16 cell</text>
<rect x="482.40" y="183.20" width="39.40" height="88.30" fill="#e6e6e7" stroke="none" stroke-width="0" />
<rect x="521.80" y="183.20" width="39.70" height="88.30" fill="#fee5c5" stroke="none" stroke-width="0" />
<line x1="504.60" y1="188.40" x2="504.60" y2="205.20" stroke="#333" stroke-width="1" />
<line x1="504.60" y1="224.10" x2="504.60" y2="235.60" stroke="#333" stroke-width="1" />
<rect x="499.00" y="205.20" width="11.20" height="18.90" fill="#fff" stroke="#333" stroke-width="1" />
<line x1="499.00" y1="213.60" x2="510.20" y2="213.60" stroke="#111" stroke-width="2.2" />
<line x1="539.60" y1="187.70" x2="539.60" y2="205.20" stroke="#333" stroke-width="1" />
<line x1="539.60" y1="227.40" x2="539.60" y2="231.60" stroke="#333" stroke-width="1" />
<rect x="534.00" y="205.20" width="11.20" height="22.20" fill="#fff" stroke="#333" stroke-width="1" />
<line x1="534.00" y1="219.20" x2="545.20" y2="219.20" stroke="#111" stroke-width="2.2" />
<rect x="482.40" y="170.20" width="79.10" height="101.30" fill="none" stroke="#a8a8a8" stroke-width="1" />
<line x1="482.40" y1="183.20" x2="561.50" y2="183.20" stroke="#9a9a9a" stroke-width="1" />
<rect x="563.90" y="170.20" width="78.80" height="13.00" fill="#c9c9c9" stroke="none" stroke-width="0" />
<text transform="translate(603.30,181.00)" font-family='"Liberation Sans", sans-serif' font-size="9.2" font-weight="normal" text-anchor="middle" fill="#111"  stroke="#111" stroke-width="0.25">earlyblast</text>
<rect x="563.90" y="183.20" width="38.60" height="88.30" fill="#e6e6e7" stroke="none" stroke-width="0" />
<rect x="602.50" y="183.20" width="40.20" height="88.30" fill="#fee5c5" stroke="none" stroke-width="0" />
<line x1="585.20" y1="193.00" x2="585.20" y2="201.20" stroke="#333" stroke-width="1" />
<line x1="585.20" y1="212.50" x2="585.20" y2="217.60" stroke="#333" stroke-width="1" />
<rect x="579.60" y="201.20" width="11.20" height="11.30" fill="#fff" stroke="#333" stroke-width="1" />
<line x1="579.60" y1="206.40" x2="590.80" y2="206.40" stroke="#111" stroke-width="2.2" />
<line x1="621.00" y1="191.20" x2="621.00" y2="199.60" stroke="#333" stroke-width="1" />
<line x1="621.00" y1="220.60" x2="621.00" y2="228.60" stroke="#333" stroke-width="1" />
<rect x="615.40" y="199.60" width="11.20" height="21.00" fill="#fff" stroke="#333" stroke-width="1" />
<line x1="615.40" y1="208.20" x2="626.60" y2="208.20" stroke="#111" stroke-width="2.2" />
<rect x="563.90" y="170.20" width="78.80" height="101.30" fill="none" stroke="#a8a8a8" stroke-width="1" />
<line x1="563.90" y1="183.20" x2="642.70" y2="183.20" stroke="#9a9a9a" stroke-width="1" />
<line x1="398.20" y1="187.10" x2="401.50" y2="187.10" stroke="#444" stroke-width="1" />
<text transform="translate(394.20,189.20)" font-family='"Liberation Serif", serif' font-size="11.4" font-weight="bold" text-anchor="end" fill="#111" >30000</text>
<line x1="398.20" y1="207.15" x2="401.50" y2="207.15" stroke="#444" stroke-width="1" />
<text transform="translate(394.20,209.25)" font-family='"Liberation Serif", serif' font-size="11.4" font-weight="bold" text-anchor="end" fill="#111" >25000</text>
<line x1="398.20" y1="227.20" x2="401.50" y2="227.20" stroke="#444" stroke-width="1" />
<text transform="translate(394.20,229.30)" font-family='"Liberation Serif", serif' font-size="11.4" font-weight="bold" text-anchor="end" fill="#111" >20000</text>
<line x1="398.20" y1="247.25" x2="401.50" y2="247.25" stroke="#444" stroke-width="1" />
<text transform="translate(394.20,249.35)" font-family='"Liberation Serif", serif' font-size="11.4" font-weight="bold" text-anchor="end" fill="#111" >15000</text>
<line x1="398.20" y1="267.30" x2="401.50" y2="267.30" stroke="#444" stroke-width="1" />
<text transform="translate(394.20,269.40)" font-family='"Liberation Serif", serif' font-size="11.4" font-weight="bold" text-anchor="end" fill="#111" >10000</text>
<text transform="translate(357.70,229.10) rotate(-90)" font-family='"Liberation Serif", serif' font-size="9.43" font-weight="bold" text-anchor="middle" fill="#111" xml:space="preserve">Total chr X expression  per cell</text>
<text transform="translate(431.00,279.00) rotate(-38)" font-family='"Liberation Serif", serif' font-size="11.5" font-weight="bold" text-anchor="end" fill="#111" >Female</text>
<text transform="translate(463.70,282.30) rotate(-38)" font-family='"Liberation Serif", serif' font-size="11.5" font-weight="bold" text-anchor="end" fill="#111" >Male</text>
<text transform="translate(507.70,281.00) rotate(-38)" font-family='"Liberation Serif", serif' font-size="11.5" font-weight="bold" text-anchor="end" fill="#111" >Female</text>
<text transform="translate(545.00,282.30) rotate(-38)" font-family='"Liberation Serif", serif' font-size="11.5" font-weight="bold" text-anchor="end" fill="#111" >Male</text>
<text transform="translate(590.30,281.70) rotate(-38)" font-family='"Liberation Serif", serif' font-size="11.5" font-weight="bold" text-anchor="end" fill="#111" >Female</text>
<text transform="translate(629.00,279.70) rotate(-38)" font-family='"Liberation Serif", serif' font-size="11.5" font-weight="bold" text-anchor="end" fill="#111" >Male</text>
<rect x="122.80" y="324.70" width="60.20" height="125.60" fill="#efefef" stroke="none" stroke-width="0" />
<line x1="57.60" y1="334.90" x2="248.60" y2="334.90" stroke="#d2d2d2" stroke-width="2.5" stroke-dasharray="13.2 13.38" stroke-dashoffset="1.1"/>
<line x1="57.60" y1="389.85" x2="248.60" y2="389.85" stroke="#d2d2d2" stroke-width="2.5" stroke-dasharray="13.2 13.38" stroke-dashoffset="1.1"/>
<polyline points="86.6,390.8 146.6,370.2 206.45,353.3" fill="none" stroke="#da1e1b" stroke-width="2.9"/>
<polyline points="98.85,390.8 158.65,417.0 218.65,433.2" fill="none" stroke="#3a7dc0" stroke-width="2.8"/>
<line x1="86.60" y1="387.20" x2="86.60" y2="405.10" stroke="#4a4a4a" stroke-width="1.9" />
<rect x="82.20" y="388.50" width="8.80" height="9.00" fill="#e3201b" stroke="#4a4a4a" stroke-width="1.8" />
<rect x="83.10" y="389.40" width="7.00" height="3.90" fill="#5e4846" stroke="none" stroke-width="0" />
<line x1="82.20" y1="392.20" x2="91.00" y2="392.20" stroke="#4a4a4a" stroke-width="2.0" />
<line x1="98.85" y1="381.50" x2="98.85" y2="403.50" stroke="#4a4a4a" stroke-width="1.9" />
<rect x="94.45" y="390.00" width="8.80" height="6.20" fill="#3f85cc" stroke="#4a4a4a" stroke-width="1.8" />
<line x1="94.45" y1="390.90" x2="103.25" y2="390.90" stroke="#4a4a4a" stroke-width="2.0" />
<line x1="146.60" y1="348.30" x2="146.60" y2="395.40" stroke="#4a4a4a" stroke-width="1.9" />
<rect x="142.20" y="364.90" width="8.80" height="12.40" fill="#e3201b" stroke="#4a4a4a" stroke-width="1.8" />
<line x1="142.20" y1="369.80" x2="151.00" y2="369.80" stroke="#4a4a4a" stroke-width="2.2" />
<line x1="158.65" y1="392.60" x2="158.65" y2="443.10" stroke="#4a4a4a" stroke-width="1.9" />
<rect x="154.25" y="409.90" width="8.80" height="15.95" fill="#3f85cc" stroke="#4a4a4a" stroke-width="1.8" />
<line x1="154.25" y1="416.10" x2="163.05" y2="416.10" stroke="#4a4a4a" stroke-width="2.2" />
<line x1="206.45" y1="333.80" x2="206.45" y2="372.00" stroke="#4a4a4a" stroke-width="1.9" />
<rect x="202.05" y="348.10" width="8.80" height="14.90" fill="#e3201b" stroke="#4a4a4a" stroke-width="1.8" />
<line x1="202.05" y1="353.70" x2="210.85" y2="353.70" stroke="#4a4a4a" stroke-width="2.2" />
<line x1="218.65" y1="412.20" x2="218.65" y2="443.70" stroke="#4a4a4a" stroke-width="1.9" />
<rect x="214.25" y="424.00" width="8.80" height="15.80" fill="#3f85cc" stroke="#4a4a4a" stroke-width="1.8" />
<line x1="214.25" y1="433.20" x2="223.05" y2="433.20" stroke="#4a4a4a" stroke-width="2.2" />
<rect x="57.60" y="328.70" width="191.00" height="121.60" fill="none" stroke="#b9b9b9" stroke-width="1.2" />
<line x1="53.30" y1="334.90" x2="57.60" y2="334.90" stroke="#333" stroke-width="1.2" />
<text transform="translate(53.80,339.00) scale(0.955,1)" font-family='"Liberation Sans", sans-serif' font-size="13.5" font-weight="normal" text-anchor="end" fill="#111"  stroke="#111" stroke-width="0.25">1</text>
<line x1="53.30" y1="356.88" x2="57.60" y2="356.88" stroke="#333" stroke-width="1.2" />
<text transform="translate(53.80,360.98) scale(0.955,1)" font-family='"Liberation Sans", sans-serif' font-size="13.5" font-weight="normal" text-anchor="end" fill="#111"  stroke="#111" stroke-width="0.25">0.8</text>
<line x1="53.30" y1="378.86" x2="57.60" y2="378.86" stroke="#333" stroke-width="1.2" />
<text transform="translate(53.80,382.96) scale(0.955,1)" font-family='"Liberation Sans", sans-serif' font-size="13.5" font-weight="normal" text-anchor="end" fill="#111"  stroke="#111" stroke-width="0.25">0.6</text>
<line x1="53.30" y1="400.84" x2="57.60" y2="400.84" stroke="#333" stroke-width="1.2" />
<text transform="translate(53.80,404.94) scale(0.955,1)" font-family='"Liberation Sans", sans-serif' font-size="13.5" font-weight="normal" text-anchor="end" fill="#111"  stroke="#111" stroke-width="0.25">0.4</text>
<line x1="53.30" y1="422.82" x2="57.60" y2="422.82" stroke="#333" stroke-width="1.2" />
<text transform="translate(53.80,426.92) scale(0.955,1)" font-family='"Liberation Sans", sans-serif' font-size="13.5" font-weight="normal" text-anchor="end" fill="#111"  stroke="#111" stroke-width="0.25">0.2</text>
<line x1="53.30" y1="444.80" x2="57.60" y2="444.80" stroke="#333" stroke-width="1.2" />
<text transform="translate(53.80,448.90) scale(0.955,1)" font-family='"Liberation Sans", sans-serif' font-size="13.5" font-weight="normal" text-anchor="end" fill="#111"  stroke="#111" stroke-width="0.25">0</text>
<line x1="92.80" y1="450.30" x2="92.80" y2="453.80" stroke="#333" stroke-width="1.2" />
<text transform="translate(92.40,466.70)" font-family='"Liberation Sans", sans-serif' font-size="13.9" font-weight="normal" text-anchor="middle" fill="#111"  stroke="#111" stroke-width="0.25">4 cell</text>
<line x1="152.60" y1="450.30" x2="152.60" y2="453.80" stroke="#333" stroke-width="1.2" />
<text transform="translate(153.00,466.70)" font-family='"Liberation Sans", sans-serif' font-size="13.9" font-weight="normal" text-anchor="middle" fill="#111"  stroke="#111" stroke-width="0.25">16 cell</text>
<line x1="212.40" y1="450.30" x2="212.40" y2="453.80" stroke="#333" stroke-width="1.2" />
<text transform="translate(212.40,466.70)" font-family='"Liberation Sans", sans-serif' font-size="13.9" font-weight="normal" text-anchor="middle" fill="#111"  stroke="#111" stroke-width="0.25">earlyblast</text>
<text transform="translate(23.90,387.75) rotate(-90)" font-family='"Liberation Sans", sans-serif' font-size="14.3" font-weight="normal" text-anchor="middle" fill="#111"  stroke="#111" stroke-width="0.25">X/A</text>
<rect x="472.50" y="329.10" width="58.20" height="117.40" fill="#efefef" stroke="none" stroke-width="0" />
<line x1="409.90" y1="359.40" x2="593.80" y2="359.40" stroke="#d2d2d2" stroke-width="2.5" stroke-dasharray="12.5 13.1" stroke-dashoffset="0.5"/>
<line x1="409.90" y1="400.30" x2="593.80" y2="400.30" stroke="#d2d2d2" stroke-width="2.5" stroke-dasharray="12.5 13.1" stroke-dashoffset="0.5"/>
<polyline points="438.4,367.2 496.2,363.5 553.9,361.4" fill="none" stroke="#da1e1b" stroke-width="2.9"/>
<polyline points="449.7,441.9 507.3,441.9 565.1,441.9" fill="none" stroke="#3a7dc0" stroke-width="2.4"/>
<line x1="438.40" y1="355.90" x2="438.40" y2="383.50" stroke="#4a4a4a" stroke-width="1.9" />
<rect x="434.15" y="359.80" width="8.50" height="14.10" fill="#e3201b" stroke="#4a4a4a" stroke-width="1.8" />
<line x1="434.15" y1="367.20" x2="442.65" y2="367.20" stroke="#4a4a4a" stroke-width="2.2" />
<line x1="496.20" y1="340.80" x2="496.20" y2="393.10" stroke="#4a4a4a" stroke-width="1.9" />
<rect x="491.95" y="357.00" width="8.50" height="16.60" fill="#e3201b" stroke="#4a4a4a" stroke-width="1.8" />
<line x1="491.95" y1="364.50" x2="500.45" y2="364.50" stroke="#4a4a4a" stroke-width="2.2" />
<line x1="553.90" y1="338.80" x2="553.90" y2="389.40" stroke="#4a4a4a" stroke-width="1.9" />
<rect x="549.65" y="351.20" width="8.50" height="21.60" fill="#e3201b" stroke="#4a4a4a" stroke-width="1.8" />
<line x1="549.65" y1="361.40" x2="558.15" y2="361.40" stroke="#4a4a4a" stroke-width="2.2" />
<line x1="446.70" y1="441.90" x2="452.70" y2="441.90" stroke="#4a4a4a" stroke-width="4" stroke-linecap="round"/>
<line x1="504.30" y1="441.90" x2="510.30" y2="441.90" stroke="#4a4a4a" stroke-width="4" stroke-linecap="round"/>
<line x1="562.10" y1="441.90" x2="568.10" y2="441.90" stroke="#4a4a4a" stroke-width="4" stroke-linecap="round"/>
<rect x="409.90" y="329.10" width="183.90" height="117.40" fill="none" stroke="#b9b9b9" stroke-width="1.2" />
<line x1="406.60" y1="341.80" x2="409.90" y2="341.80" stroke="#333" stroke-width="1.2" />
<text transform="translate(406.30,346.10) scale(0.890,1)" font-family='"Liberation Sans", sans-serif' font-size="13.5" font-weight="normal" text-anchor="end" fill="#111"  stroke="#111" stroke-width="0.25">1.2</text>
<line x1="406.60" y1="375.20" x2="409.90" y2="375.20" stroke="#333" stroke-width="1.2" />
<text transform="translate(406.30,379.50) scale(0.890,1)" font-family='"Liberation Sans", sans-serif' font-size="13.5" font-weight="normal" text-anchor="end" fill="#111"  stroke="#111" stroke-width="0.25">0.8</text>
<line x1="406.60" y1="408.60" x2="409.90" y2="408.60" stroke="#333" stroke-width="1.2" />
<text transform="translate(406.30,412.90) scale(0.890,1)" font-family='"Liberation Sans", sans-serif' font-size="13.5" font-weight="normal" text-anchor="end" fill="#111"  stroke="#111" stroke-width="0.25">0.4</text>
<line x1="406.60" y1="442.00" x2="409.90" y2="442.00" stroke="#333" stroke-width="1.2" />
<text transform="translate(406.30,446.30) scale(0.890,1)" font-family='"Liberation Sans", sans-serif' font-size="13.5" font-weight="normal" text-anchor="end" fill="#111"  stroke="#111" stroke-width="0.25">0</text>
<line x1="444.30" y1="446.50" x2="444.30" y2="450.00" stroke="#333" stroke-width="1.2" />
<text transform="translate(443.75,460.90)" font-family='"Liberation Sans", sans-serif' font-size="13.2" font-weight="normal" text-anchor="middle" fill="#111"  stroke="#111" stroke-width="0.25">4 cell</text>
<line x1="501.80" y1="446.50" x2="501.80" y2="450.00" stroke="#333" stroke-width="1.2" />
<text transform="translate(502.40,460.90)" font-family='"Liberation Sans", sans-serif' font-size="13.2" font-weight="normal" text-anchor="middle" fill="#111"  stroke="#111" stroke-width="0.25">16 cell</text>
<line x1="559.20" y1="446.50" x2="559.20" y2="450.00" stroke="#333" stroke-width="1.2" />
<text transform="translate(559.75,460.90)" font-family='"Liberation Sans", sans-serif' font-size="13.2" font-weight="normal" text-anchor="middle" fill="#111"  stroke="#111" stroke-width="0.25">earlyblast</text>
<text transform="translate(378.00,386.00) rotate(-90) scale(0.930,1)" font-family='"Liberation Sans", sans-serif' font-size="14.5" font-weight="normal" text-anchor="middle" fill="#111"  stroke="#111" stroke-width="0.25">X/A</text>
<text transform="translate(259.50,375.70)" font-family='"Liberation Sans", sans-serif' font-size="11.9" font-weight="bold" text-anchor="start" fill="#111" >Gene source</text>
<rect x="259.70" y="380.30" width="15.50" height="29.50" fill="#f2f2f2" stroke="#d0d0d0" stroke-width="0.6" />
<line x1="267.45" y1="380.80" x2="267.45" y2="394.55" stroke="#4a4a4a" stroke-width="1.2" />
<rect x="261.30" y="383.84" width="12.30" height="8.11" fill="#c23c37" stroke="#4a4a4a" stroke-width="1.5" />
<line x1="261.30" y1="387.90" x2="273.60" y2="387.90" stroke="#4a4a4a" stroke-width="1.2" />
<text transform="translate(276.20,391.50) scale(1.060,1)" font-family='"Liberation Sans", sans-serif' font-size="11.6" font-weight="normal" text-anchor="start" fill="#111"  stroke="#111" stroke-width="0.25">maternal</text>
<line x1="267.45" y1="395.55" x2="267.45" y2="409.30" stroke="#4a4a4a" stroke-width="1.2" />
<rect x="261.30" y="398.59" width="12.30" height="8.11" fill="#3b79bc" stroke="#4a4a4a" stroke-width="1.5" />
<line x1="261.30" y1="402.65" x2="273.60" y2="402.65" stroke="#4a4a4a" stroke-width="1.2" />
<text transform="translate(276.20,406.30) scale(1.060,1)" font-family='"Liberation Sans", sans-serif' font-size="11.6" font-weight="normal" text-anchor="start" fill="#111"  stroke="#111" stroke-width="0.25">paternal</text>
<text transform="translate(603.90,373.20) scale(1.070,1)" font-family='"Liberation Sans", sans-serif' font-size="10.8" font-weight="bold" text-anchor="start" fill="#111" >Gene source</text>
<rect x="605.00" y="379.20" width="15.00" height="28.20" fill="#f2f2f2" stroke="#d0d0d0" stroke-width="0.6" />
<line x1="612.50" y1="379.70" x2="612.50" y2="392.80" stroke="#4a4a4a" stroke-width="1.2" />
<rect x="606.60" y="382.58" width="11.80" height="7.76" fill="#c23c37" stroke="#4a4a4a" stroke-width="1.5" />
<line x1="606.60" y1="386.46" x2="618.40" y2="386.46" stroke="#4a4a4a" stroke-width="1.2" />
<text transform="translate(621.30,389.80) scale(1.030,1)" font-family='"Liberation Sans", sans-serif' font-size="11.4" font-weight="normal" text-anchor="start" fill="#111"  stroke="#111" stroke-width="0.25">maternal</text>
<line x1="612.50" y1="393.80" x2="612.50" y2="406.90" stroke="#4a4a4a" stroke-width="1.2" />
<rect x="606.60" y="396.68" width="11.80" height="7.76" fill="#3b79bc" stroke="#4a4a4a" stroke-width="1.5" />
<line x1="606.60" y1="400.56" x2="618.40" y2="400.56" stroke="#4a4a4a" stroke-width="1.2" />
<text transform="translate(621.30,403.60) scale(1.030,1)" font-family='"Liberation Sans", sans-serif' font-size="11.4" font-weight="normal" text-anchor="start" fill="#111"  stroke="#111" stroke-width="0.25">paternal</text>
</svg>
</body></html>
